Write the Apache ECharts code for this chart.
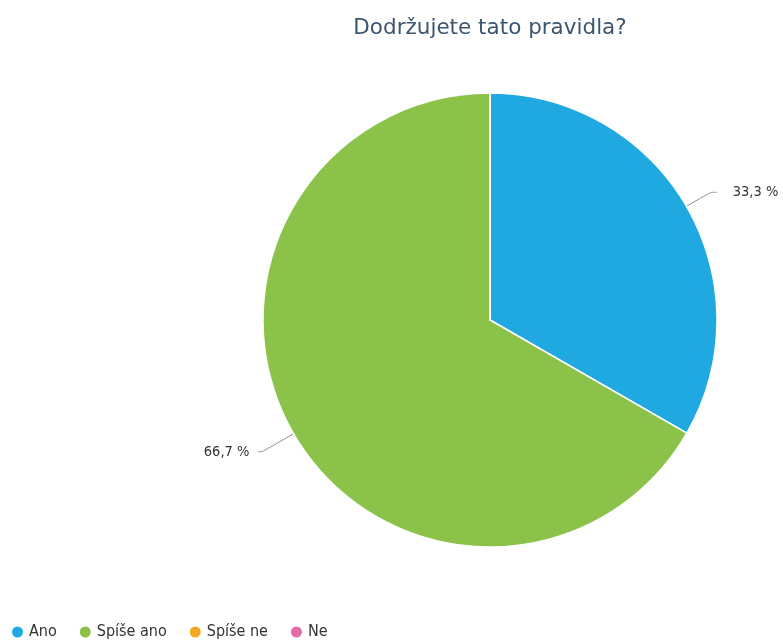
<!DOCTYPE html>
<html>
<head>
<meta charset="utf-8">
<script src="https://cdn.jsdelivr.net/npm/echarts@6/dist/echarts.min.js"></script>
<style>
  html, body { margin: 0; padding: 0; background: #fff; }
  #chart { width: 783px; height: 641px; }
</style>
</head>
<body>
<div id="chart"></div>
<script>
// Answer categories and their share of responses (%)
const categories = ['Ano', 'Spíše ano', 'Spíše ne', 'Ne'];
const shares = [33.3, 66.7, 0, 0];
const colors = ['#20a8e0', '#8bc34a', '#f7a823', '#e56aa6'];
// Label leader line lengths and text gap per category
const leaderLengths = [[28, 6], [36, 4], [20, 10], [20, 10]];
const labelGaps = [16, 9, 10, 10];

const data = categories.map((name, i) => {
  const item = {
    name: name,
    value: shares[i],
    label: { distanceToLabelLine: labelGaps[i] },
    labelLine: { length: leaderLengths[i][0], length2: leaderLengths[i][1] }
  };
  if (shares[i] === 0) {
    item.label = { show: false };
    item.labelLine = { show: false };
  }
  return item;
});

const chart = echarts.init(document.getElementById('chart'));
chart.setOption({
  animation: false,
  color: colors,
  title: {
    text: 'Dodržujete tato pravidla?',
    left: 485,
    textAlign: 'center',
    top: 12,
    textStyle: {
      fontFamily: 'DejaVu Sans',
      fontSize: 21.5,
      fontWeight: 'normal',
      color: '#3d5670'
    }
  },
  legend: {
    data: categories,
    left: 5,
    bottom: -4,
    icon: 'circle',
    itemWidth: 13,
    itemHeight: 13,
    itemGap: 21,
    textStyle: {
      fontFamily: 'DejaVu Sans Condensed',
      fontSize: 16,
      color: '#333'
    }
  },
  series: [{
    type: 'pie',
    center: [490, 320],
    radius: [0, 227],
    startAngle: 90,
    clockwise: true,
    data: data,
    itemStyle: { borderColor: '#fff', borderWidth: 1.5 },
    label: {
      show: true,
      fontFamily: 'DejaVu Sans Condensed',
      fontSize: 14.5,
      color: '#333',
      overflow: 'none',
      formatter: p => p.value.toFixed(1).replace('.', ',') + ' %'
    },
    labelLine: {
      show: true,
      smooth: true,
      lineStyle: { color: '#8c8c8c', width: 1 }
    },
    emphasis: { disabled: true }
  }]
});
</script>
</body>
</html>
